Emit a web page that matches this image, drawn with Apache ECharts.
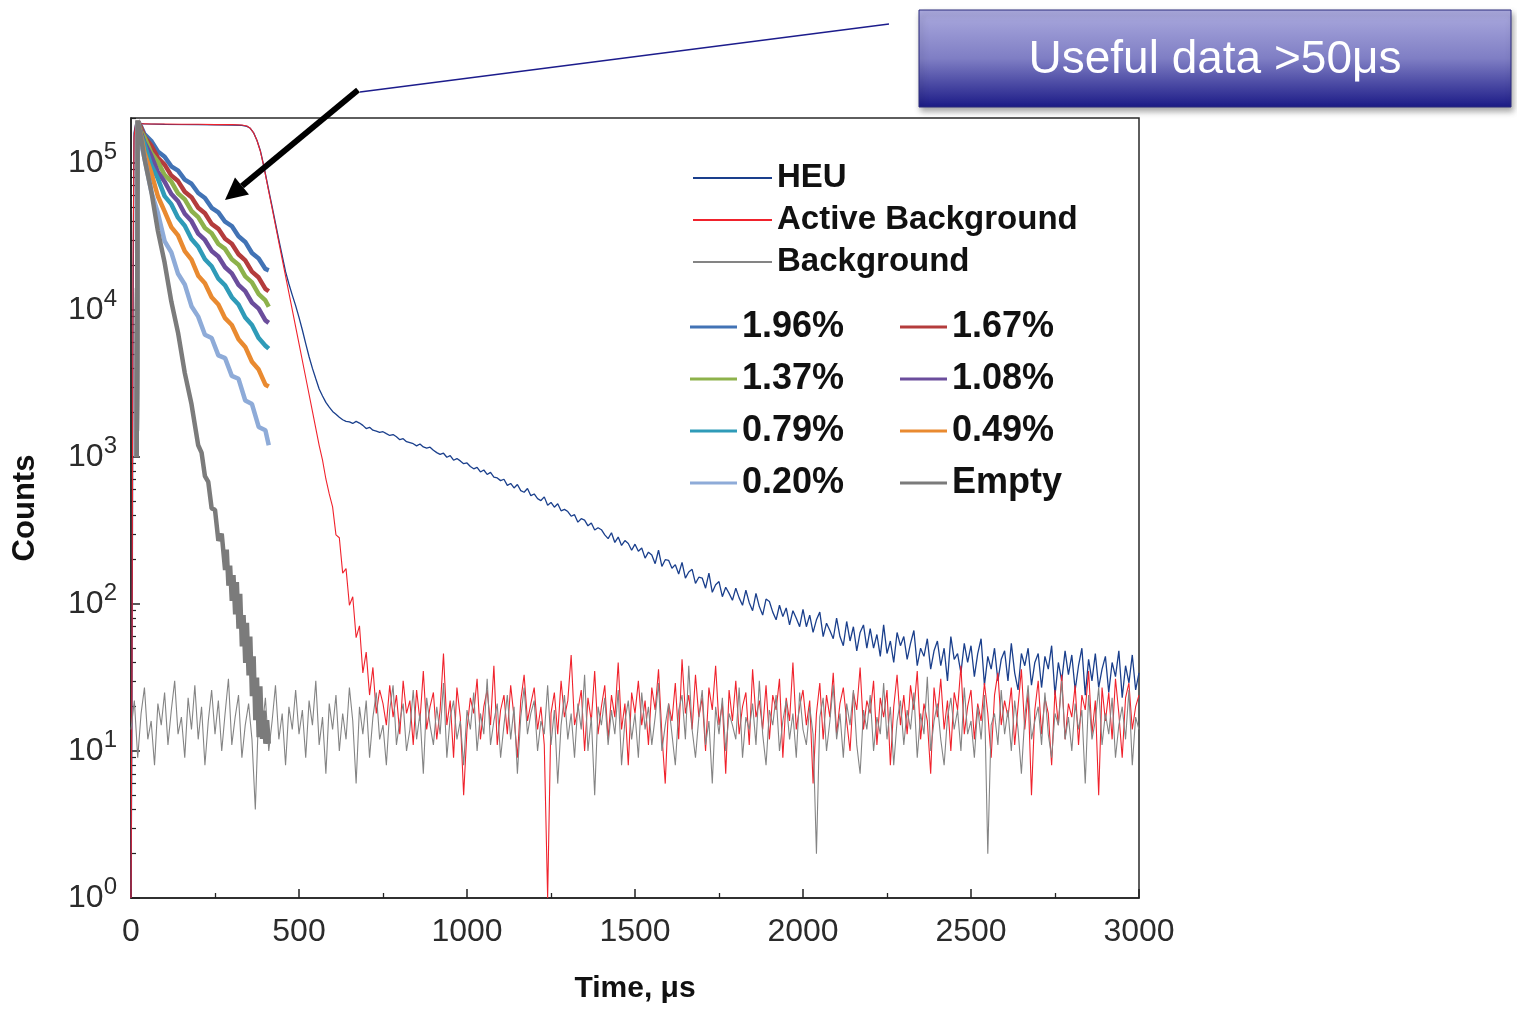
<!DOCTYPE html>
<html>
<head>
<meta charset="utf-8">
<script src="https://cdn.jsdelivr.net/npm/echarts@6/dist/echarts.min.js"></script>
<style>
html,body{margin:0;padding:0;background:#fff;}
#chart{width:1517px;height:1009px;}
</style>
</head>
<body>
<div id="chart"></div>
<script>
// ---------------- DATA ----------------
// Time axis ticks (µs)
const xTickLabels = [0, 500, 1000, 1500, 2000, 2500, 3000];
// Y decades (exponents of 10)
const yDecades = [0, 1, 2, 3, 4, 5];

// Short thick curves (sample times, µs)
const thickT = [17, 20, 30, 40, 60, 80, 100, 120, 140, 160, 180, 200, 220, 240, 260, 280, 300, 320, 340, 360, 380, 400, 410];
const v196 = [1000, 193200, 176200, 156700, 141300, 119700, 110200, 94800, 88500, 76900, 72100, 62400, 57700, 49500, 46100, 39800, 37200, 31700, 29000, 24400, 22400, 19000, 18600];
const v167 = [1000, 193200, 173400, 150300, 131500, 108100, 97300, 82000, 75200, 63700, 58500, 49500, 45400, 38500, 35600, 30500, 28200, 23900, 21700, 18200, 16600, 13900, 13400];
const v137 = [1000, 193200, 164100, 149600, 117000, 101600, 82800, 74600, 62100, 56400, 47100, 42800, 36100, 33200, 28100, 26000, 22100, 20300, 16900, 15400, 12800, 11600, 10500];
const v108 = [1000, 193200, 160000, 137700, 112200, 86700, 74500, 61400, 54800, 45100, 40200, 33000, 29900, 25200, 23100, 19500, 17700, 14800, 13400, 11200, 10200, 8490, 8170];
const v079 = [1000, 193200, 154200, 134300, 96600, 78200, 59400, 52400, 42400, 37400, 30400, 26900, 22100, 19800, 16300, 14700, 12200, 10900, 8890, 7890, 6430, 5710, 5450];
const v049 = [1000, 193200, 152400, 117200, 86100, 59300, 46800, 36600, 32100, 25100, 22000, 17100, 15200, 12200, 10900, 8790, 7890, 6310, 5600, 4440, 3930, 3100, 3010];
const v020 = [1000, 193200, 135200, 107900, 64300, 45600, 29400, 24600, 17600, 14900, 10600, 9000, 6780, 6440, 4910, 4700, 3560, 3400, 2420, 2290, 1600, 1520, 1200];

const emptyT = [17, 20, 30, 40, 60, 80, 100, 120, 140, 160, 180, 200, 210, 220, 230, 240, 250, 260, 270, 280, 285, 290, 295, 300, 305, 310, 315, 320, 325, 330, 335, 340, 345, 350, 355, 360, 365, 370, 375, 380, 385, 390, 395, 400, 405, 410];
const emptyV = [1000, 193000, 148000, 107000, 64900, 34500, 21000, 11400, 7000, 3730, 2290, 1200, 1070, 741, 676, 447, 437, 269, 300, 170, 234, 133, 182, 105, 157, 85, 141, 68, 117, 51.5, 84, 39.7, 74.5, 32.7, 60, 23.6, 44, 16.2, 31.6, 12.4, 27.5, 12.1, 18.8, 11.2, 16.2, 11.2];

// HEU: early part (explicit times) + tail sampled every 10 µs from 650 µs
const heuEarlyT = [0, 3, 6, 9, 14, 40, 100, 200, 300, 330, 345, 355, 365, 375, 385, 395, 410, 420, 440, 460, 470, 480, 490, 500, 510, 520, 530, 540, 550, 560, 570, 580, 590, 600, 610, 620, 630, 640];
const heuEarlyV = [1, 20, 8000, 160000, 186000, 184000, 183000, 182000, 181000, 180000, 177000, 172000, 160000, 142000, 121000, 96000, 65000, 50500, 30000, 18200, 15000, 12600, 10700, 8900, 7300, 5900, 4800, 4000, 3400, 2900, 2600, 2350, 2180, 2040, 1950, 1860, 1790, 1745];
const heuTailStart = 650, heuTailStep = 10;
const heuTail = [
1730, 1690, 1745, 1700, 1640,
1560, 1590, 1520, 1500, 1470, 1485, 1440, 1400, 1420, 1370,
1310, 1330, 1270, 1250, 1230, 1190, 1225, 1170, 1150, 1165,
1110, 1070, 1040, 1060, 995, 1020, 950, 975, 940, 900,
910, 860, 830, 850, 790, 815, 760, 785, 730, 720,
690, 705, 640, 660, 615, 650, 590, 575, 610, 545,
560, 520, 505, 535, 470, 490, 455, 480, 430, 440,
425, 395, 405, 360, 380, 372, 340, 355, 318, 330,
320, 295, 278, 305, 262, 285, 250, 270, 258, 232,
255, 228, 240, 205, 225, 215, 188, 232, 180, 200,
198, 175, 185, 160, 192, 150, 165, 172, 138, 152,
150, 128, 162, 120, 135, 142, 112, 130, 118, 106,
128, 110, 98, 124, 102, 90, 118, 96, 84, 108,
104, 88, 78, 98, 82, 94, 72, 90, 80, 70,
92, 70, 84, 64, 78, 88, 60, 74, 66, 58,
80, 60, 52, 76, 56, 70, 48, 64, 72, 50,
68, 50, 62, 44, 72, 46, 56, 40, 64, 52,
60, 42, 54, 66, 38, 50, 44, 58, 36, 48,
56, 38, 50, 30, 60, 42, 46, 34, 54, 40,
52, 32, 46, 58, 28, 44, 36, 50, 30, 42,
48, 30, 54, 34, 26, 46, 38, 50, 28, 40,
46, 27, 44, 36, 52, 24, 40, 30, 48, 33,
45, 26, 38, 50, 24, 42, 30, 46, 27, 36,
44, 25, 40, 32, 48, 23, 38, 29, 45, 26,
34];

// Active background: early part (explicit times) + noise sampled every 10 µs from 750 µs
const activeEarlyT = [0, 3, 6, 9, 14, 30, 60, 100, 150, 200, 250, 300, 330, 345, 355, 365, 375, 385, 395, 410, 420, 440, 460, 480, 500, 520, 540, 560, 570, 580, 590, 600, 610, 620, 630, 640, 650, 660, 670, 680, 690, 700, 710, 720, 730, 740];
const activeEarlyV = [1, 40, 20000, 150000, 186000, 185000, 184000, 184000, 183000, 183000, 182000, 182000, 181000, 178000, 172000, 160000, 142000, 120000, 95000, 63800, 49000, 28800, 17000, 10000, 5890, 3470, 2040, 1200, 950, 708, 560, 457, 295, 282, 162, 174, 98, 112, 59, 71, 34, 47, 24, 37, 18, 26];
const activeTailStart = 750, activeTailStep = 10;
const activeTail = [
21, 15, 28, 17, 24,
13, 30, 18, 22, 11, 26, 16, 35, 14, 20,
25, 12, 19, 46, 15, 22, 9, 27, 17, 5,
14, 23, 18, 31, 12, 20, 26, 15, 38, 11,
19, 24, 13, 28, 17, 9, 22, 33, 16, 21,
27, 14, 20, 11, 1, 18, 25, 13, 30, 17,
22, 45, 15, 19, 26, 10, 23, 16, 35, 13,
20, 28, 12, 24, 17, 40, 14, 21, 8, 25,
18, 30, 15, 22, 11, 27, 19, 36, 13, 6,
21, 16, 29, 12, 42, 18, 24, 14, 33, 17,
23, 10, 27, 19, 38, 15, 21, 7, 26, 16,
30, 13, 20, 25, 11, 36, 17, 22, 14, 28,
12, 24, 19, 31, 9, 23, 16, 40, 14, 20,
26, 15, 22, 6, 18, 29, 12, 24, 17, 34,
13, 21, 27, 16, 10, 25, 19, 37, 14, 22,
18, 30, 11, 23, 17, 26, 8, 20, 33, 15,
24, 13, 28, 19, 35, 12, 21, 16, 7, 27,
17, 31, 14, 22, 10, 25, 19, 38, 13, 20,
26, 12, 21, 16, 29, 18, 9, 24, 34, 15,
22, 17, 27, 11, 20, 36, 14, 25, 5, 19,
30, 13, 23, 18, 8, 26, 15, 33, 12, 21,
17, 28, 11, 24, 19, 35, 13, 22, 5, 27,
16, 25, 12, 31, 18, 9, 23, 29, 14, 20,
24];

// Passive background: sampled every 10 µs from 0 µs
const bgStart = 0, bgStep = 10;
const background = [
14, 22, 9, 18, 27, 12, 16, 8, 21, 15,
25, 11, 19, 30, 13, 17, 9, 23, 14, 28,
12, 20, 8, 16, 26, 13, 22, 10, 18, 31,
11, 17, 24, 9, 15, 21, 12, 4, 19, 14,
23, 10, 16, 28, 12, 18, 8, 20, 14, 26,
13, 19, 9, 22, 15, 30, 11, 17, 7, 21,
14, 24, 10, 18, 12, 27, 16, 6, 20, 13,
22, 9, 17, 25, 12, 15, 8, 19, 28, 11,
16, 21, 10, 14, 26, 12, 18, 7, 23, 15,
11, 20, 13, 29, 9, 17, 22, 12, 16, 8,
19, 14, 25, 10, 18, 13, 31, 11, 16, 21,
9, 15, 24, 12, 20, 7, 17, 27, 13, 18,
22, 10, 16, 13, 28, 11, 19, 6, 15, 24,
12, 18, 9, 21, 14, 33, 10, 17, 5, 20,
15, 23, 11, 19, 13, 26, 8, 16, 22, 12,
18, 9, 25, 14, 20, 11, 17, 29, 10, 15,
21, 13, 8, 19, 24, 12, 38, 14, 9, 17,
26, 11, 16, 6, 20, 13, 23, 10, 18, 15,
12, 27, 9, 17, 14, 21, 11, 30, 13, 8,
19, 15, 24, 10, 16, 22, 12, 18, 9, 25,
14, 11, 20, 13, 2, 17, 23, 10, 16, 28,
12, 18, 9, 21, 15, 26, 11, 7, 19, 14,
24, 10, 17, 13, 29, 12, 20, 8, 16, 22,
11, 19, 14, 25, 9, 18, 13, 32, 10, 16,
21, 12, 8, 17, 23, 14, 19, 10, 27, 13,
16, 9, 20, 12, 24, 2, 15, 18, 11, 26,
13, 19, 10, 22, 14, 7, 17, 28, 12, 16,
20, 11, 25, 13, 9, 18, 15, 30, 12, 17,
10, 21, 14, 19, 6, 24, 12, 16, 27, 11,
18, 13, 23, 9, 15, 20, 12, 26, 8, 17,
14];

// ---------------- BUILD ----------------
function pairs(ts, vs) { return ts.map((t, i) => [t, vs[i]]); }
function binned(start, step, vs) { return vs.map((v, i) => [start + i * step, v]); }

const FONT = '"Liberation Sans", Arial, Helvetica, sans-serif';
const Y_MAX = 202000;

const heuData = pairs(heuEarlyT, heuEarlyV).concat(binned(heuTailStart, heuTailStep, heuTail));
const activeData = pairs(activeEarlyT, activeEarlyV).concat(binned(activeTailStart, activeTailStep, activeTail));
const bgData = binned(bgStart, bgStep, background);

function thin(name, data, color, w) {
  return { name, type: 'line', data, color, showSymbol: false, symbol: 'none',
           lineStyle: { width: w, color }, animation: false, emphasis: { disabled: true } };
}
function thick(name, data, color) {
  return { name, type: 'line', data, color, showSymbol: false, symbol: 'none',
           lineStyle: { width: 4.5, color }, animation: false, emphasis: { disabled: true } };
}

const series = [
  thin('HEU', heuData, '#1a3f8c', 1.3),
  thin('Active Background', activeData, '#f0222c', 1.1),
  thin('Background', bgData, '#848484', 1.1),
  thick('1.96%', pairs(thickT, v196), '#4273b5'),
  thick('1.67%', pairs(thickT, v167), '#b43c3c'),
  thick('1.37%', pairs(thickT, v137), '#8db24b'),
  thick('1.08%', pairs(thickT, v108), '#6b4d9c'),
  thick('0.79%', pairs(thickT, v079), '#2f9bb8'),
  thick('0.49%', pairs(thickT, v049), '#e98a30'),
  thick('0.20%', pairs(thickT, v020), '#8eabd8'),
  thick('Empty', pairs(emptyT, emptyV), '#7b7b7b')
];

// minor log tick positions (2..9 per decade), expressed in log10 units for a helper axis
const minorLogTicks = [];
yDecades.forEach(d => { for (let k = 2; k <= 9; k++) { const v = k * Math.pow(10, d); if (v <= Y_MAX) minorLogTicks.push(Math.log10(v)); } });

const chart = echarts.init(document.getElementById('chart'), null, { renderer: 'canvas' });
chart.setOption({
  backgroundColor: '#ffffff',
  animation: false,
  grid: { left: 131, right: 378, top: 118, bottom: 110, show: true, borderColor: '#2a2a2a', borderWidth: 1.5, backgroundColor: 'transparent' },
  xAxis: {
    type: 'value', min: xTickLabels[0], max: xTickLabels[xTickLabels.length - 1], interval: 500,
    axisLine: { show: true, lineStyle: { color: '#222', width: 1.5 } },
    axisTick: { show: true, inside: true, length: 9, lineStyle: { color: '#222', width: 1.5 } },
    minorTick: { show: true, splitNumber: 2, length: 5, lineStyle: { color: '#222', width: 1.3 } },
    splitLine: { show: false },
    axisLabel: { fontSize: 32, color: '#2b2b2b', margin: 18, fontFamily: FONT, formatter: v => String(v) },
    name: 'Time, μs', nameLocation: 'middle', nameGap: 76,
    nameTextStyle: { fontSize: 30, fontWeight: 'bold', color: '#111', fontFamily: FONT }
  },
  yAxis: [{
    type: 'log', logBase: 10, min: 1, max: Y_MAX,
    axisLine: { show: true, lineStyle: { color: '#222', width: 1.5 } },
    axisTick: { show: true, inside: true, length: 9, lineStyle: { color: '#222', width: 1.5 } },
    splitLine: { show: false },
    axisLabel: {
      margin: 14, showMaxLabel: false,
      formatter: function (v) {
        const e = Math.log10(v); const r = Math.round(e);
        if (Math.abs(e - r) > 1e-6 || yDecades.indexOf(r) < 0) return '';
        return '{b|10}{s|' + r + '}';
      },
      rich: {
        b: { fontSize: 32, lineHeight: 46, color: '#2b2b2b', fontFamily: FONT },
        s: { fontSize: 24, lineHeight: 24, verticalAlign: 'top', color: '#2b2b2b', fontFamily: FONT }
      }
    },
    name: 'Counts', nameLocation: 'middle', nameGap: 90,
    nameTextStyle: { fontSize: 31, fontWeight: 'bold', color: '#111', fontFamily: FONT }
  }, {
    type: 'value', min: 0, max: Math.log10(Y_MAX), position: 'left',
    axisLine: { show: false }, axisLabel: { show: false }, splitLine: { show: false },
    axisTick: { show: true, inside: true, length: 5, customValues: minorLogTicks, lineStyle: { color: '#222', width: 1.2 } }
  }],
  legend: [{
    data: ['HEU', 'Active Background', 'Background'], orient: 'vertical', left: 693, top: 157, padding: 0,
    itemWidth: 79, itemHeight: 2, itemGap: 0, icon: 'rect', selectedMode: false,
    textStyle: { fontSize: 33, fontWeight: 'bold', color: '#111', lineHeight: 42, fontFamily: FONT }
  }, {
    data: ['1.96%', '1.37%', '0.79%', '0.20%'], orient: 'vertical', left: 690, top: 301, padding: 0,
    itemWidth: 47, itemHeight: 3, itemGap: 0, icon: 'rect', selectedMode: false,
    textStyle: { fontSize: 36, fontWeight: 'bold', color: '#111', lineHeight: 52, fontFamily: FONT }
  }, {
    data: ['1.67%', '1.08%', '0.49%', 'Empty'], orient: 'vertical', left: 900, top: 301, padding: 0,
    itemWidth: 47, itemHeight: 3, itemGap: 0, icon: 'rect', selectedMode: false,
    textStyle: { fontSize: 36, fontWeight: 'bold', color: '#111', lineHeight: 52, fontFamily: FONT }
  }],
  series: series,
  graphic: [
    { type: 'line', z: 100, shape: { x1: 889, y1: 24, x2: 360, y2: 92 }, style: { stroke: '#1c1c8c', lineWidth: 1.5 } },
    { type: 'line', z: 100, shape: { x1: 358, y1: 90, x2: 242, y2: 186 }, style: { stroke: '#000', lineWidth: 6 } },
    { type: 'polygon', z: 100, shape: { points: [[225, 200], [235, 177.5], [249, 194.5]] }, style: { fill: '#000' } },
    { type: 'rect', z: 100, shape: { x: 919, y: 10, width: 592, height: 97 },
      style: { fill: { type: 'linear', x: 0, y: 0, x2: 0, y2: 1, colorStops: [
        { offset: 0, color: '#acabdf' }, { offset: 0.5, color: '#7f7ec4' }, { offset: 1, color: '#1b1a86' } ] },
        stroke: '#2b2a7c', lineWidth: 1, shadowBlur: 6, shadowOffsetX: 2, shadowOffsetY: 4, shadowColor: 'rgba(0,0,0,0.35)' } },
    { type: 'text', z: 101, style: { text: 'Useful data >50μs', x: 1215, y: 60, align: 'center', verticalAlign: 'middle',
        fill: '#ffffff', font: '46px ' + FONT } }
  ]
});
</script>
</body>
</html>
